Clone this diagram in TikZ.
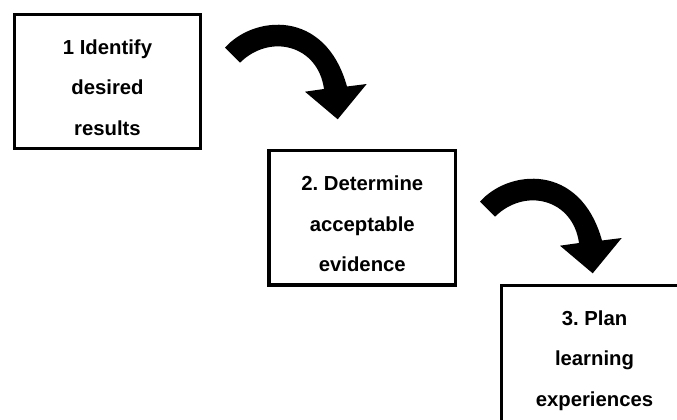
\documentclass[tikz,border=0pt]{standalone}
\usepackage{fontspec}
\setmainfont{Liberation Sans}
\frenchspacing
\begin{document}
\begin{tikzpicture}[x=1pt,y=-1pt,
  stepbox/.style={draw=black, line width=3.3pt, fill=white, minimum width=186.4pt,
    minimum height=134.5pt, inner sep=0pt, align=center,
    font=\fontsize{20.3}{40.5}\selectfont\bfseries},
  curvearrow/.pic={\fill[black] (0,0) .. controls (28,-32) and (100,-40) .. (122,38.8)
     -- (141.7,36.3) -- (112.7,71.6) -- (80,44) -- (99,41.3)
     .. controls (93,-2.7) and (45,-14.7) .. (15,15) -- cycle;}]
\useasboundingbox (0,0) rectangle (677,420);
\clip (0,0) rectangle (677,420);
\newcommand{\firstline}{\rule{0pt}{30pt}}
\newcommand{\lastline}[1][3.5pt]{\rule[-#1]{0pt}{#1}}
\node[stepbox] (b1) at (107.5,81.5) {\firstline 1 Identify\\desired\\results\lastline};
\node[stepbox] (b2) at (362.3,217.8) {\firstline 2. Determine\\acceptable\\evidence\lastline};
\node[stepbox, minimum height=142pt] (b3) at (594.5,356.3) {\firstline 3. Plan\\learning\\experiences\lastline[11pt]};
\pic (a1) at (225,47.7) {curvearrow};
\pic (a2) at (480,201.7) {curvearrow};
\end{tikzpicture}
\end{document}
